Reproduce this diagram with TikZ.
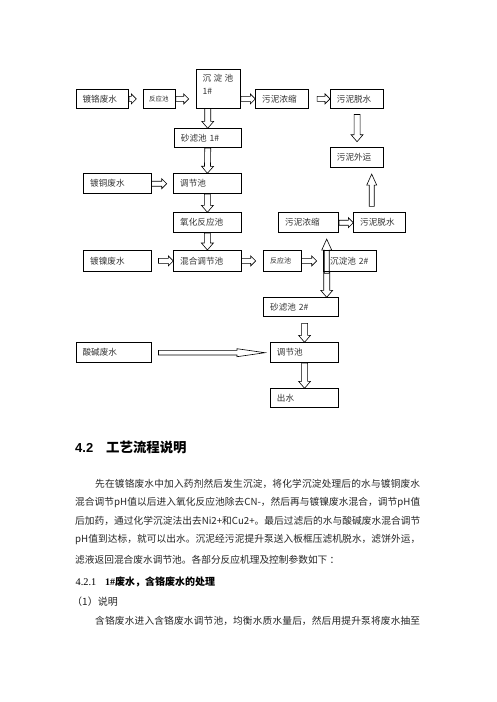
\documentclass[tikz,border=0pt]{standalone}
\usepackage{fontspec}
\setmainfont{Liberation Serif}
\newfontfamily\cjk{Noto Sans CJK SC}
\newfontfamily\headfont{Liberation Sans}
\usetikzlibrary{calc}
\setlength{\parindent}{0pt}
\XeTeXlinebreaklocale "zh"
\XeTeXlinebreakskip=0pt plus 1pt minus 0.1pt
\tikzset{
	flow shaft/.store in=\flowshaft, flow shaft=2.5pt,
	flow head/.store in=\flowhead, flow head=5pt,
	flow len/.store in=\flowlen, flow len=5pt,
	flow/.style={draw, line width=0.6pt, to path={
		let \p1=(\tikztostart), \p2=(\tikztotarget), \p3=($(\p2)!\flowlen!(\p1)$) in
		($(\p1)!\flowshaft!90:(\p2)$) -- ($(\p3)!\flowshaft!-90:(\p1)$)
		-- ($(\p3)!\flowhead!-90:(\p1)$) -- (\p2)
		-- ($(\p3)!\flowhead!90:(\p1)$) -- ($(\p3)!\flowshaft!90:(\p1)$)
		-- ($(\p1)!\flowshaft!-90:(\p2)$) -- cycle}},
	vflow/.style={flow, flow shaft=3pt, flow head=6pt, flow len=7pt},
	longflow/.style={flow, flow shaft=2.3pt, flow head=4pt, flow len=28pt},
	box/.style={draw, line width=0.8pt, anchor=north west, inner xsep=6.5pt, inner ysep=0pt,
		text width=#1, align=left, text=black!80, font=\cjk\fontsize{8.6}{13.2}\selectfont},
	smallbox/.style={box=#1, inner xsep=5.5pt, font=\cjk\fontsize{6.5}{8}\selectfont},
	textline/.style={anchor=base west, inner sep=0pt, text width=#1, align=justify,
		text=black!85, font=\cjk\fontsize{9.7}{12}\selectfont},
}
\begin{document}
\begin{tikzpicture}[x=1pt, y=-1pt]
	\fill[white] (0,0) rectangle (496,702);
	\useasboundingbox (0,0) rectangle (496,702);
	\node[box=39.6pt, minimum height=18.4pt] (gl) at (75.7,89.3) {镀铬废水};
	\node[smallbox=20.7pt, minimum height=18.4pt] (fy1) at (143.3,89.3) {反应池};
	\node[box=31.3pt, minimum height=38.4pt] (cd1) at (195.7,69.3) {\parbox[c][30pt][t]{31pt}{\mbox{沉\hspace{2.4pt}淀\hspace{2.4pt}池}\\1\#}};
	\node[box=40pt, minimum height=18.4pt] (wn1) at (255.3,89.3) {污泥浓缩};
	\node[box=40.3pt, minimum height=18.4pt] (ws1) at (330,89.3) {污泥脱水};
	\node[box=53.7pt, minimum height=19pt] (sl1) at (174,128.3) {砂滤池 1\#};
	\node[box=40.3pt, minimum height=20pt] (wy) at (330,147.3) {污泥外运};
	\node[box=54.4pt, minimum height=20pt] (tg) at (83.3,173.3) {镀铜废水};
	\node[box=54.4pt, minimum height=20pt] (tj1) at (173.3,173.3) {调节池};
	\node[box=54.4pt, minimum height=20pt] (yh) at (173.3,212.3) {氧化反应池};
	\node[box=47pt, minimum height=20pt] (wn2) at (278.3,212.3) {污泥浓缩};
	\node[box=38.7pt, minimum height=20pt] (ws2) at (353.3,212.3) {污泥脱水};
	\node[box=54.4pt, minimum height=21pt] (tn) at (83.3,250) {镀镍废水};
	\node[box=54.4pt, minimum height=21pt] (hh) at (173.3,250) {混合调节池};
	\node[box=24.4pt, minimum height=21pt, font=\cjk\fontsize{7}{8}\selectfont] (fy2) at (263.3,250) {反应池};
	\node[box=39.4pt, minimum height=21pt] (cd2) at (323.3,250) {沉淀池 2\#};
	\node[box=62pt, minimum height=18.7pt] (sl2) at (263.3,297.3) {砂滤池 2\#};
	\node[box=62pt, minimum height=20pt] (sj) at (75.7,342.3) {酸碱废水};
	\node[box=55.3pt, minimum height=20pt] (tj2) at (270,342.3) {调节池};
	\node[box=55.3pt, minimum height=19pt] (cs) at (270,388.3) {出水};
	\draw[flow] (gl.east) to ($(fy1.west)+(-7,0)$);
	\draw[flow] (fy1.east) to ($(fy1.east -| cd1.west)+(-7,0)$);
	\draw[flow] (cd1.east |- wn1.west) to (wn1.west);
	\draw[flow] ($(wn1.east)+(8,0)$) to (ws1.west);
	\draw[vflow] ($(ws1.south)+(0,6)$) to ($(wy.north)+(0,-5.6)$);
	\draw[vflow] (sl1.north |- cd1.south) to (sl1.north);
	\draw[vflow] (sl1.south) to (tj1.north);
	\draw[vflow] (tj1.south) to (yh.north);
	\draw[vflow] (yh.south) to (hh.north);
	\draw[flow] (tg.east) to ($(tj1.west)+(-6.6,0)$);
	\draw[flow] ($(tn.east)+(7,0)$) to (hh.west);
	\draw[flow] (hh.east) to ($(fy2.west)+(-7.6,0)$);
	\draw[flow] (fy2.east) to ($(cd2.west)+(-6.6,0)$);
	\draw[flow] (wn2.east) to (ws2.west);
	\draw[vflow, flow shaft=2.5pt, flow head=5pt, flow len=11pt] ($(cd2.south west)+(3.4,1.5)$) to ($(cd2.south west |- wn2.south)+(3.4,6)$);
	\draw[vflow] ($(cd2.south west)+(3.4,0)$) to ($(cd2.south west |- sl2.north)+(3.4,0)$);
	\draw[vflow, flow shaft=2.5pt, flow head=5pt, flow len=11pt] ($(ws2.north west)+(18.4,-6)$) to ($(ws2.north west |- wy.south)+(18.4,6)$);
	\draw[longflow] ($(sj.east)+(7,0)$) to ($(sj.east -| tj2.west)+(-5,0)$);
	\draw[vflow] ($(sl2.south -| tj2.north)+(0,6.5)$) to (tj2.north);
	\draw[vflow] (tj2.south) to (cs.north);
	\node[anchor=base west, inner sep=0pt] (sec) at (75,452) {\makebox[31pt][l]{\headfont\bfseries\fontsize{13}{15}\selectfont 4.2}{\cjk\bfseries\fontsize{13.4}{15}\selectfont 工艺流程说明}};
	\node[textline=325pt] (l1) at (95,487) {\parfillskip=0pt 先在镀铬废水中加入药剂然后发生沉淀，将化学沉淀处理后的水与镀铜废水\par};
	\node[textline=345pt] (l2) at (75,505) {\parfillskip=0pt 混合调节pH值以后进入氧化反应池除去CN-，然后再与镀镍废水混合，调节pH值\par};
	\node[textline=345pt] (l3) at (75,524) {\parfillskip=0pt 后加药，通过化学沉淀法出去Ni2+和Cu2+。最后过滤后的水与酸碱废水混合调节\par};
	\node[textline=345pt] (l4) at (75,542.3) {\parfillskip=0pt pH值到达标，就可以出水。沉泥经污泥提升泵送入板框压滤机脱水，滤饼外运，\par};
	\node[anchor=base west, inner sep=0pt, text=black!85, font=\cjk\fontsize{9.7}{12}\selectfont] (l5) at (75,563) {滤液返回混合废水调节池。各部分反应机理及控制参数如下 ：};
	\node[anchor=base west, inner sep=0pt] (sub) at (75.5,585.4) {\makebox[29.5pt][l]{\fontsize{10.3}{12}\selectfont 4.2.1}{\fontsize{10}{12}\selectfont\bfseries 1\#}{\cjk\bfseries\fontsize{10}{12}\selectfont 废水，含铬废水的处理}};
	\node[anchor=base west, inner sep=0pt, text=black!85, font=\cjk\fontsize{10}{12}\selectfont] (sm) at (72,605.5) {（1）说明};
	\node[textline=325pt] (l6) at (95,624.7) {\parfillskip=0pt 含铬废水进入含铬废水调节池，均衡水质水量后，然后用提升泵将废水抽至\par};
\end{tikzpicture}
\end{document}
